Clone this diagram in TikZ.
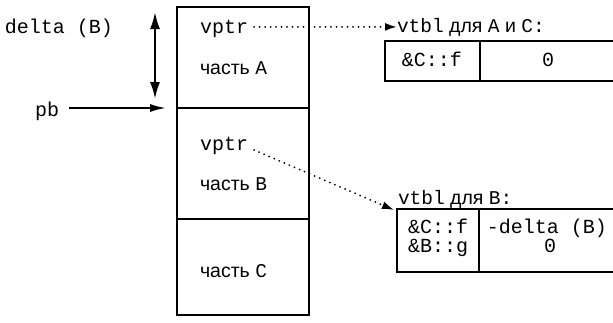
\documentclass[tikz,border=0pt]{standalone}
\usepackage{fontspec}
\setmainfont{Liberation Sans}
\newfontfamily\monof{Liberation Mono}
\usetikzlibrary{arrows.meta}
\newcommand{\mt}[1]{{\monof #1}}
\tikzset{
  box/.style={draw, line width=2.4pt, rectangle, inner sep=0pt, outer sep=0pt, anchor=north west},
  txt/.style={inner sep=0pt, outer sep=0pt, anchor=base west, font=\fontsize{19.5}{22}\selectfont},
  mono/.style={inner sep=0pt, outer sep=0pt, anchor=base, font=\fontsize{20}{22}\monof},
  tbl/.style={line width=2.4pt},
  dotarrow/.style={line width=2pt, dash pattern=on 0pt off 5.5pt, line cap=round, -{Latex[length=12pt,width=8pt]}},
  solidarrow/.style={line width=1.8pt, -{Latex[length=16pt,width=8pt]}}
}
\begin{document}
\begin{tikzpicture}[x=1pt,y=-1pt]
\useasboundingbox (0,0) rectangle (613,322);
% main object
\node[box, minimum width=132pt, minimum height=101pt] (secA) at (177,7) {};
\node[box, minimum width=132pt, minimum height=111pt] (secB) at (177,108) {};
\node[box, minimum width=132pt, minimum height=96pt] (secC) at (177,219) {};
% texts inside
\node[txt, font=\fontsize{20}{22}\monof] (vptrA) at (200,33) {vptr};
\node[txt] (partA) at (200,74) {часть \mt{A}};
\node[txt, font=\fontsize{20}{22}\monof] (vptrB) at (200,150) {vptr};
\node[txt] (partB) at (200,190) {часть \mt{B}};
\node[txt] (partC) at (200,277) {часть \mt{C}};
% left labels
\node[txt, font=\fontsize{20}{22}\monof] (delta) at (5,33) {delta (B)};
\node[txt, font=\fontsize{20}{22}\monof] (pb) at (35,116) {pb};
\coordinate (dtop) at (155,12);
\coordinate (dbot) at (155,99);
\draw[line width=2.2pt, {Latex[length=17pt,width=10pt]}-{Latex[length=17pt,width=10pt]}] (dtop) -- (dbot);
\coordinate (pbend) at (166,108);
\draw[solidarrow] (pb.east |- pbend) ++(10,0) coordinate (pbstart) (pbstart) -- (pbend);
% vtbl for A and C
\node[txt] (vt1) at (397,32) {\mt{vtbl} для \mt{A} и \mt{C:}};
\draw[dotarrow] (vptrA.base east) ++(6,-6) coordinate (d1s) (d1s) -- (vt1.west);
\draw[tbl] (616,41) -- (385,41) -- (385,81) -- (616,81);
\draw[tbl] (480,41) -- (480,81);
\node[mono] (t1f) at (432,66) {\&C::f};
\node[mono] (t1z) at (548,66) {0};
% vtbl for B
\node[txt] (vt2) at (398,204) {\mt{vtbl} для \mt{B:}};
\coordinate (t2tip) at (394,210);
\draw[dotarrow] (vptrB.base east) ++(6,0) coordinate (d2s) (d2s) -- (t2tip);
\draw[tbl] (616,209) -- (397,209) -- (397,272) -- (616,272);
\draw[tbl] (479,209) -- (479,272);
\node[mono] (t2f) at (438,233) {\&C::f};
\node[mono] (t2g) at (438,252) {\&B::g};
\node[mono] (t2d) at (547,233) {-delta (B)};
\node[mono] (t2z) at (550,252) {0};
\end{tikzpicture}
\end{document}
